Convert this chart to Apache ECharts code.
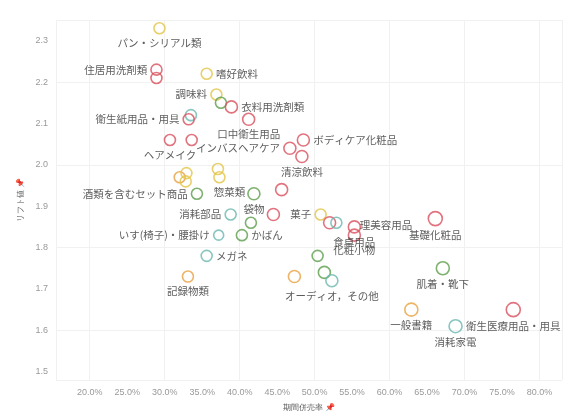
<!DOCTYPE html><html><head><meta charset="utf-8"><script src="https://cdn.jsdelivr.net/npm/echarts@6/dist/echarts.min.js"></script></head><body style="margin:0"><div id="c" style="width:585px;height:417px"></div><script>
const names=['パン・シリアル類','住居用洗剤類','','嗜好飲料','調味料','','衣料用洗剤類','','衛生紙用品・用具','口中衛生用品','ヘアメイク','','インバスヘアケア','ボディケア化粧品','清涼飲料','','','','惣菜類','','酒類を含むセット商品','袋物','','消耗部品','','','いす(椅子)・腰掛け','かばん','メガネ','記録物類','菓子','','理美容用品','食卓用品','化粧小物','基礎化粧品','','肌着・靴下','','','オーディオ，その他','一般書籍','衛生医療用品・用具','消耗家電'];
const xs=[29.3,28.9,28.9,35.6,36.9,37.5,38.9,33.5,33.2,41.2,30.7,33.6,46.7,48.5,48.3,32.0,32.9,32.8,37.3,37.1,34.3,41.9,45.6,38.8,44.5,41.5,37.2,40.3,35.6,33.1,50.8,52.0,52.9,55.3,55.3,66.1,50.4,67.1,47.3,51.3,52.3,62.9,76.5,68.8];
const ys=[2.33,2.23,2.21,2.22,2.17,2.15,2.14,2.12,2.11,2.11,2.06,2.06,2.04,2.06,2.02,1.97,1.98,1.96,1.97,1.99,1.93,1.93,1.94,1.88,1.88,1.86,1.83,1.83,1.78,1.73,1.88,1.86,1.86,1.85,1.83,1.87,1.78,1.75,1.73,1.74,1.72,1.65,1.65,1.61];
const groups=['y','r','r','y','y','g','r','t','r','r','r','r','r','r','r','o','y','y','y','y','g','g','r','t','r','g','t','g','t','o','y','r','t','r','r','r','g','g','o','g','t','o','r','t'];
const sizes=[11,11,11,11,11,11,12,11,11,12,11,11,12,12,12,11,11,11,11,11,11,12,12,11,12,11,10,11,11,11,11,12,11,12,12,14,11,13,12,12,12,13,14,13];
const labelPos=['bottom','left','left','right','left','left','right','left','left','bottom','bottom','left','left','right','bottom','left','left','left','bottom','left','left','bottom','left','left','left','left','left','right','right','bottom','left','top','right','bottom','bottom','bottom','left','bottom','left','left','bottom','bottom','bottom','bottom'];
const xTicks=[16.67,20,25,30,35,40,45,50,55,60,65,70,75,80];
const yTicks=[1.5,1.6,1.7,1.8,1.9,2.0,2.1,2.2,2.3];
const colors={r:'#d9505f',y:'#e2c447',o:'#e8a040',g:'#5c9e4c',t:'#6cb8b0'};
const offsets={12:[0,0],32:[14,2],18:[10,0],40:[0,0],42:[0,0]};
const data=xs.map((x,i)=>({value:[x,ys[i]],name:names[i],symbolSize:sizes[i],
 itemStyle:{color:'rgba(255,255,255,0)',borderColor:colors[groups[i]],borderWidth:1.6},
 label:{show:names[i]!=='',position:labelPos[i],offset:offsets[i]||[0,0],distance:3}}));
const ch=echarts.init(document.getElementById('c'));
ch.setOption({animation:false,
grid:{left:56,right:23,top:20,bottom:37},
xAxis:{type:'value',min:15.5,max:83,name:'期間併売率 📌',nameLocation:'middle',nameGap:24,nameTextStyle:{fontSize:8,color:'#555'},
 axisLine:{show:false},axisTick:{show:false},
 axisLabel:{customValues:xTicks,fontSize:9,color:'#999',formatter:v=>(Math.abs(v-16.67)<0.1?15:v).toFixed(1)+'%'},
 splitLine:{show:true,lineStyle:{color:'#f1f1f1'}}},
yAxis:{type:'value',min:1.48,max:2.35,name:'リフト値 📌',nameLocation:'middle',nameGap:30,nameTextStyle:{fontSize:8,color:'#555'},
 axisLine:{show:false},axisTick:{show:false},
 axisLabel:{customValues:yTicks,fontSize:9,color:'#999',formatter:v=>v.toFixed(1)},
 splitLine:{show:true,lineStyle:{color:'#f1f1f1'}}},
series:[{type:'scatter',data:data,label:{formatter:'{b}',fontSize:10.5,color:'#333',fontFamily:'Noto Sans CJK JP'}}]});
</script></body></html>
